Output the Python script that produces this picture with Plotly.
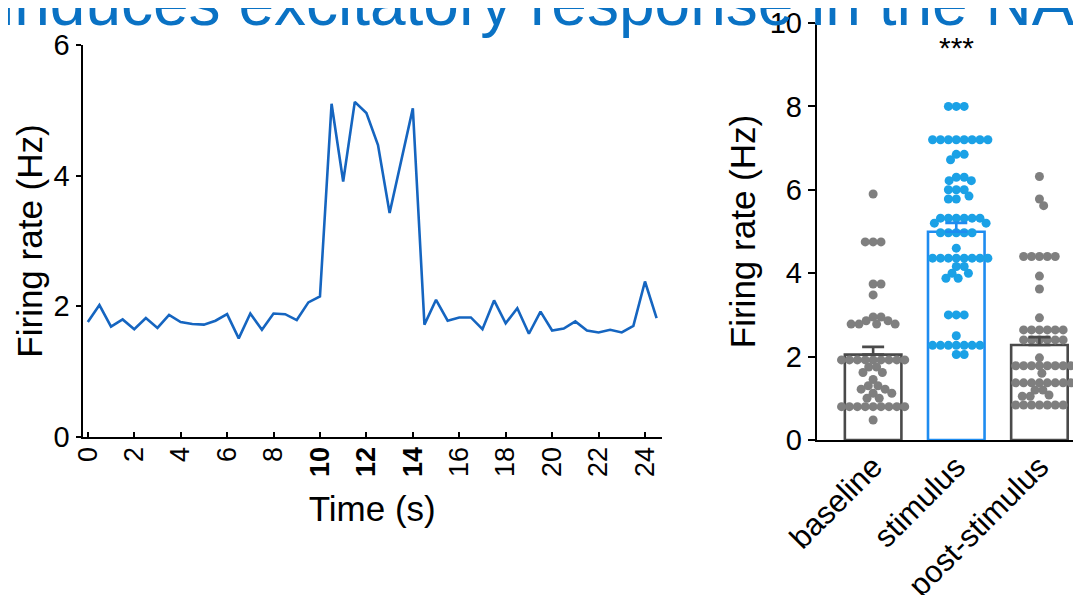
import numpy as np
import plotly.graph_objects as go

# ---------------- data ----------------
time_s = [0, 0.5, 1, 1.5, 2, 2.5, 3, 3.5, 4, 4.5, 5, 5.5, 6, 6.5, 7, 7.5, 8, 8.5, 9, 9.5,
          10, 10.5, 11, 11.5, 12, 12.5, 13, 13.5, 14, 14.5, 15, 15.5, 16, 16.5, 17, 17.5,
          18, 18.5, 19, 19.5, 20, 20.5, 21, 21.5, 22, 22.5, 23, 23.5, 24, 24.5]
rate_hz = [1.76, 2.02, 1.69, 1.80, 1.65, 1.82, 1.67, 1.87, 1.76, 1.73, 1.72, 1.78, 1.88, 1.51,
           1.89, 1.64, 1.89, 1.88, 1.79, 2.06, 2.15, 5.10, 3.91, 5.13, 4.96, 4.47, 3.43, 4.24,
           5.03, 1.72, 2.10, 1.78, 1.83, 1.83, 1.65, 2.09, 1.74, 1.97, 1.58, 1.92, 1.63, 1.66,
           1.77, 1.63, 1.60, 1.64, 1.60, 1.70, 2.38, 1.82]
time_ticks = [0, 2, 4, 6, 8, 10, 12, 14, 16, 18, 20, 22, 24]
time_ticktext = ["0", "2", "4", "6", "8", "<b>10</b>", "<b>12</b>", "<b>14</b>",
                 "16", "18", "20", "22", "24"]

groups = ["baseline", "stimulus", "post-stimulus"]
baseline = [5.9, 4.75, 4.75, 4.75, 3.74, 3.74, 3.48,
            2.95, 2.95, 2.86, 2.86, 2.78, 2.78, 2.78, 2.78,
            1.92, 1.92, 1.92, 1.92, 1.92, 1.92, 1.92, 1.92, 1.92,
            1.75, 1.75, 1.62, 1.62, 1.45, 1.30, 1.30, 1.22, 1.22, 1.12, 1.12, 1.0, 1.0,
            0.8, 0.8, 0.8, 0.8, 0.8, 0.8, 0.8, 0.8, 0.8, 0.48]
stimulus = [8.0, 8.0, 8.0,
            7.2, 7.2, 7.2, 7.2, 7.2, 7.2, 7.2, 7.2,
            6.85, 6.85, 6.72, 6.3, 6.3, 6.22, 6.22, 6.0, 6.0, 6.0, 5.85, 5.78, 5.78,
            5.32, 5.32, 5.32, 5.32, 5.32, 5.32, 5.2, 5.2,
            4.97, 4.97, 4.97, 4.97, 4.97, 4.6,
            4.36, 4.36, 4.36, 4.36, 4.36, 4.36, 4.36, 4.36, 4.16, 4.16,
            4.0, 4.0, 3.88, 3.88, 3.0, 3.0, 3.0, 2.5,
            2.27, 2.27, 2.27, 2.27, 2.27, 2.27, 2.27, 2.05, 2.05]
post_stimulus = [6.32, 5.78, 5.62, 4.4, 4.4, 4.4, 4.4, 4.4, 3.93, 3.62, 2.93,
                 2.64, 2.64, 2.64, 2.64, 2.64, 2.64, 2.4, 2.4, 2.4, 2.4, 2.4, 2.4, 1.97,
                 1.78, 1.78, 1.78, 1.78, 1.78, 1.78, 1.78, 1.78, 1.6,
                 1.37, 1.37, 1.37, 1.37, 1.37, 1.37, 1.37, 1.37, 1.2, 1.2, 1.08, 1.05, 1.05,
                 0.84, 0.84, 0.84, 0.84, 0.84, 0.84, 0.84]
group_values = [baseline, stimulus, post_stimulus]
significance = "***"

# ---------------- style ----------------
FONT = "Liberation Sans, Arial, sans-serif"
W, H = 1081, 595
OFF = 8  # page body margin: screen position = figure position + OFF
LINE_BLUE = "#1565C0"
DOT_COLORS = ["#7F7F7F", "#1BA1E6", "#7F7F7F"]
BAR_EDGE = ["#4A4A4A", "#1E8CF0", "#4A4A4A"]


def fx(px):
    return (px - OFF) / W


def fy(py):
    return 1 - (py - OFF) / H


# right panel geometry (screen pixels) used to build the swarm offsets
R_X0, R_X1 = 817, 1081
R_Y0, R_Y1 = 440, 23
Y_MAX = 10
x_range_r = [-0.675, 2.5]
px_per_x = (R_X1 - R_X0) / (x_range_r[1] - x_range_r[0])
px_per_y = (R_Y0 - R_Y1) / Y_MAX
DOT_D = 7.9  # spacing between dot centres, px


def swarm_offsets(vals, d_px):
    vals = np.asarray(vals, float)
    order = np.argsort(-vals, kind="stable")
    placed = []
    offs = np.zeros(len(vals))
    for i in order:
        y = vals[i] * px_per_y
        cands = [0.0]
        for (px, py) in placed:
            dy = abs(py - y)
            if dy < d_px:
                dx = np.sqrt(d_px ** 2 - dy ** 2)
                cands += [px + dx, px - dx]
        cands.sort(key=lambda c: (round(abs(c), 6), -c))
        chosen = 0.0
        for c in cands:
            if all((c - px) ** 2 + (y - py) ** 2 >= d_px ** 2 - 1e-6 for px, py in placed):
                chosen = c
                break
        placed.append((chosen, y))
        offs[i] = chosen / px_per_x
    return offs


fig = go.Figure()

# left panel: time course
fig.add_trace(go.Scatter(x=time_s, y=rate_hz, mode="lines",
                         line=dict(color=LINE_BLUE, width=2.6),
                         xaxis="x", yaxis="y", showlegend=False))

# right panel: bars (mean) + dots + SEM
means = [float(np.mean(v)) for v in group_values]
sems = [float(np.std(v, ddof=1) / np.sqrt(len(v))) for v in group_values]
idx = list(range(len(groups)))

fig.add_trace(go.Bar(x=idx, y=means, width=0.68,
                     marker=dict(color="white", line=dict(color=BAR_EDGE, width=2.6)),
                     xaxis="x2", yaxis="y2", showlegend=False))

for gi, vals in enumerate(group_values):
    offs = swarm_offsets(vals, DOT_D)
    fig.add_trace(go.Scatter(x=gi + offs, y=vals, mode="markers",
                             marker=dict(size=9, color=DOT_COLORS[gi], line=dict(width=0)),
                             xaxis="x2", yaxis="y2", showlegend=False, cliponaxis=False))

for gi in idx:
    fig.add_trace(go.Scatter(x=[gi], y=[means[gi]], mode="markers",
                             marker=dict(size=1, opacity=0),
                             error_y=dict(type="data", symmetric=False, array=[sems[gi]],
                                          arrayminus=[0], color=BAR_EDGE[gi],
                                          thickness=2.6, width=11),
                             xaxis="x2", yaxis="y2", showlegend=False))

line_style = dict(showline=True, linecolor="black", linewidth=2.4, showgrid=False,
                  zeroline=False, tickcolor="black", tickwidth=2.2, automargin=False,
                  ticklabeloverflow="allow")
TICKFONT = dict(family=FONT, size=29, color="black")
TITLEFONT = dict(family=FONT, size=35, color="black")

L_X0, L_X1 = 82.7, 661.7
L_Y0, L_Y1 = 437, 45

fig.update_layout(
    template="none",
    width=W, height=H, autosize=False,
    margin=dict(l=0, r=0, t=0, b=0, pad=0),
    paper_bgcolor="white", plot_bgcolor="white",
    font=dict(family=FONT, color="black"),
    xaxis=dict(domain=[fx(L_X0), fx(L_X1)], range=[-0.22, 24.72],
               tickvals=time_ticks, ticktext=time_ticktext, tickangle=-90,
               ticks="inside", ticklen=5, anchor="y", ticklabelstandoff=-3,
               tickfont=dict(family=FONT, size=27, color="black"),
               title=dict(text="Time (s)", font=TITLEFONT, standoff=20),
               **line_style),
    yaxis=dict(domain=[fy(L_Y0), fy(L_Y1)], range=[0, 6],
               tickvals=[0, 2, 4, 6], ticks="outside", ticklen=5, anchor="x",
               tickfont=TICKFONT,
               title=dict(text="Firing rate (Hz)", font=TITLEFONT, standoff=0),
               **line_style),
    xaxis2=dict(domain=[fx(R_X0), fx(R_X1)], range=x_range_r,
                tickvals=idx, ticktext=groups, tickangle=-45, ticks="", anchor="y2",
                ticklabelstandoff=-6,
                tickfont=dict(family=FONT, size=31, color="black"), **line_style),
    yaxis2=dict(domain=[fy(R_Y0), fy(R_Y1)], range=[0, Y_MAX],
                tickvals=[0, 2, 4, 6, 8, 10], ticks="outside", ticklen=7, anchor="x2",
                tickfont=TICKFONT,
                title=dict(text="Firing rate (Hz)", font=TITLEFONT, standoff=3),
                **line_style),
    annotations=[
        dict(text=significance, x=1, y=9.42, xref="x2", yref="y2", showarrow=False,
             font=dict(family=FONT, size=30, color="black"), yanchor="middle"),
        dict(text="induces excitatory response in the NAc", x=fx(-2), y=fy(3),
             xref="paper", yref="paper", xanchor="left", yanchor="middle", showarrow=False,
             font=dict(family=FONT, size=64, color="#0A72C4")),
    ],
)

fig.write_html("out.html")
